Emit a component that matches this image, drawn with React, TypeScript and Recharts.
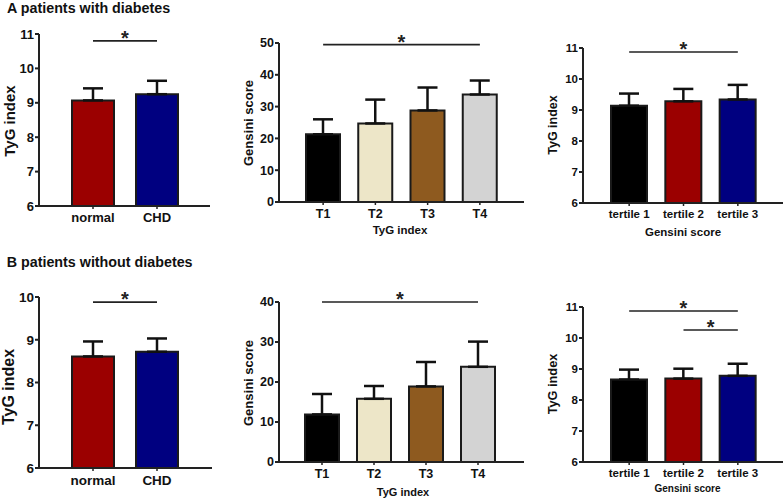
import { BarChart, Bar, XAxis, YAxis, ErrorBar, Cell, ReferenceLine } from 'recharts';

const FONT = '"Liberation Sans", Arial, sans-serif';

// categories
const groupLabels = ['normal', 'CHD'];
const tygQuartiles = ['T1', 'T2', 'T3', 'T4'];
const gensiniTertiles = ['tertile 1', 'tertile 2', 'tertile 3'];

// A patients with diabetes
const aTygMean = [9.07, 9.25];
const aTygSd = [0.35, 0.39];
const aGensiniMean = [21.3, 24.7, 28.8, 33.8];
const aGensiniSd = [4.7, 7.5, 7.2, 4.4];
const aTertileMean = [9.14, 9.28, 9.34];
const aTertileSd = [0.39, 0.4, 0.47];

// B patients without diabetes
const bTygMean = [8.61, 8.72];
const bTygSd = [0.35, 0.31];
const bGensiniMean = [11.9, 15.8, 18.9, 23.8];
const bGensiniSd = [5.1, 3.2, 6.1, 6.3];
const bTertileMean = [8.66, 8.69, 8.78];
const bTertileSd = [0.32, 0.32, 0.39];

// significance brackets (from, to, height in data units)
const aTygSig = [{ from: 'normal', to: 'CHD', y: 10.8 }];
const aGensiniSig = [{ from: 'T1', to: 'T4', y: 49.5 }];
const aTertileSig = [{ from: 'tertile 1', to: 'tertile 3', y: 10.87 }];
const bTygSig = [{ from: 'normal', to: 'CHD', y: 9.88 }];
const bGensiniSig = [{ from: 'T1', to: 'T4', y: 40 }];
const bTertileSig = [
  { from: 'tertile 1', to: 'tertile 3', y: 10.87 },
  { from: 'tertile 2', to: 'tertile 3', y: 10.26 },
];

const tyg11Ticks = [6, 7, 8, 9, 10, 11];
const tyg10Ticks = [6, 7, 8, 9, 10];
const gensini50Ticks = [0, 10, 20, 30, 40, 50];
const gensini40Ticks = [0, 10, 20, 30, 40];

const groupColors = ['#9b0000', '#000080'];
const quartileColors = ['#000000', '#ede6c8', '#8e5a1f', '#d3d3d3'];
const tertileColors = ['#000000', '#9b0000', '#000080'];

const toRows = (names: string[], mean: number[], sd: number[]) =>
  names.map((name, i) => ({ name, value: mean[i], err: [0, sd[i]] }));

type Sig = { from: string; to: string; y: number };

type PanelProps = {
  rows: { name: string; value: number; err: number[] }[];
  colors: string[];
  box: { x: number; y: number; w: number; h: number };
  axisX: number;
  axisEnd: number;
  yTop: number;
  yBottom: number;
  domain: [number, number];
  ticks: number[];
  padL: number;
  padR: number;
  barSize: number;
  yFont: number;
  xFont: number;
  sig: Sig[];
};

const YW = 30;
const XH = 30;

function Panel(p: PanelProps) {
  const margin = {
    top: p.yTop - p.box.y,
    left: p.axisX - p.box.x - YW,
    right: p.box.x + p.box.w - p.axisEnd,
    bottom: p.box.y + p.box.h - p.yBottom - XH,
  };
  const axisStyle = { stroke: '#222', strokeWidth: 2 };
  return (
    <div style={{ position: 'absolute', left: p.box.x, top: p.box.y }}>
      <BarChart width={p.box.w} height={p.box.h} data={p.rows} margin={margin}>
        <XAxis
          dataKey="name"
          type="category"
          interval={0}
          height={XH}
          padding={{ left: p.padL, right: p.padR }}
          tickSize={3}
          tickMargin={4}
          axisLine={axisStyle}
          tickLine={{ stroke: '#222', strokeWidth: 1.5 }}
          tick={{ fill: '#111', fontSize: p.xFont, fontWeight: 'bold', fontFamily: FONT }}
        />
        <YAxis
          type="number"
          domain={p.domain}
          ticks={p.ticks}
          interval={0}
          width={YW}
          tickSize={4}
          tickMargin={1}
          allowDataOverflow
          axisLine={axisStyle}
          tickLine={axisStyle}
          tick={{ fill: '#111', fontSize: p.yFont, fontWeight: 'bold', fontFamily: FONT }}
        />
        <Bar dataKey="value" barSize={p.barSize} stroke="#1a1a1a" strokeWidth={2} isAnimationActive={false}>
          {p.rows.map((r, i) => (
            <Cell key={r.name} fill={p.colors[i]} />
          ))}
          <ErrorBar dataKey="err" direction="y" width={10} stroke="#111" strokeWidth={2.5} />
        </Bar>
        {p.sig.map((s, i) => (
          <ReferenceLine
            key={i}
            segment={[
              { x: s.from, y: s.y },
              { x: s.to, y: s.y },
            ]}
            ifOverflow="visible"
            stroke="#222"
            strokeWidth={1.6}
            label={{ value: '*', position: 'top', offset: -4, fontSize: 20, fontWeight: 'bold', fill: '#222', fontFamily: FONT }}
          />
        ))}
      </BarChart>
    </div>
  );
}

function HText({ x, capTop, size, text, left }: { x: number; capTop: number; size: number; text: string; left?: boolean }) {
  return (
    <div
      style={{
        position: 'absolute',
        left: x,
        top: capTop - 0.13 * size,
        fontSize: size,
        lineHeight: 1,
        fontWeight: 'bold',
        fontFamily: FONT,
        color: '#111',
        whiteSpace: 'nowrap',
        transform: left ? undefined : 'translateX(-50%)',
      }}
    >
      {text}
    </div>
  );
}

function VText({ cx, cy, size, text }: { cx: number; cy: number; size: number; text: string }) {
  return (
    <div style={{ position: 'absolute', left: cx, top: cy, width: 0, height: 0 }}>
      <div
        style={{
          position: 'absolute',
          left: 0,
          top: 0,
          fontSize: size,
          lineHeight: 1,
          fontWeight: 'bold',
          fontFamily: FONT,
          color: '#111',
          whiteSpace: 'nowrap',
          transform: 'translate(-50%, -50%) rotate(-90deg)',
        }}
      >
        {text}
      </div>
    </div>
  );
}

export default function App() {
  return (
    <div style={{ position: 'absolute', left: 0, top: 0, width: 784, height: 501, background: '#fff', overflow: 'hidden' }}>
      <HText x={7} capTop={3.3} size={14.3} text="A patients with diabetes" left />
      <HText x={6.7} capTop={256.7} size={14.3} text="B patients without diabetes" left />

      <Panel
        rows={toRows(groupLabels, aTygMean, aTygSd)}
        colors={groupColors}
        box={{ x: 0, y: 0, w: 238, h: 245 }}
        axisX={39}
        axisEnd={210}
        yTop={34}
        yBottom={206}
        domain={[6, 11]}
        ticks={tyg11Ticks}
        padL={22}
        padR={21}
        barSize={42}
        yFont={13}
        xFont={13}
        sig={aTygSig}
      />
      <Panel
        rows={toRows(tygQuartiles, aGensiniMean, aGensiniSd)}
        colors={quartileColors}
        box={{ x: 238, y: 0, w: 290, h: 245 }}
        axisX={279}
        axisEnd={524}
        yTop={43}
        yBottom={202}
        domain={[0, 50]}
        ticks={gensini50Ticks}
        padL={18}
        padR={18}
        barSize={34}
        yFont={12.5}
        xFont={12.5}
        sig={aGensiniSig}
      />
      <Panel
        rows={toRows(gensiniTertiles, aTertileMean, aTertileSd)}
        colors={tertileColors}
        box={{ x: 520, y: 0, w: 264, h: 245 }}
        axisX={583}
        axisEnd={783}
        yTop={48}
        yBottom={203}
        domain={[6, 11]}
        ticks={tyg11Ticks}
        padL={19}
        padR={18}
        barSize={36}
        yFont={11.5}
        xFont={11.5}
        sig={aTertileSig}
      />
      <Panel
        rows={toRows(groupLabels, bTygMean, bTygSd)}
        colors={groupColors}
        box={{ x: 0, y: 245, w: 238, h: 256 }}
        axisX={39}
        axisEnd={212}
        yTop={297}
        yBottom={468}
        domain={[6, 10]}
        ticks={tyg10Ticks}
        padL={22}
        padR={23}
        barSize={42}
        yFont={13.5}
        xFont={13.5}
        sig={bTygSig}
      />
      <Panel
        rows={toRows(tygQuartiles, bGensiniMean, bGensiniSd)}
        colors={quartileColors}
        box={{ x: 238, y: 245, w: 290, h: 256 }}
        axisX={279}
        axisEnd={524}
        yTop={302}
        yBottom={462}
        domain={[0, 40]}
        ticks={gensini40Ticks}
        padL={17}
        padR={20}
        barSize={34}
        yFont={12.5}
        xFont={12.5}
        sig={bGensiniSig}
      />
      <Panel
        rows={toRows(gensiniTertiles, bTertileMean, bTertileSd)}
        colors={tertileColors}
        box={{ x: 520, y: 245, w: 264, h: 256 }}
        axisX={583}
        axisEnd={783}
        yTop={307}
        yBottom={462}
        domain={[6, 11]}
        ticks={tyg11Ticks}
        padL={19}
        padR={18}
        barSize={36}
        yFont={11.5}
        xFont={11.5}
        sig={bTertileSig}
      />

      <VText cx={8.9} cy={121.3} size={15} text="TyG index" />
      <VText cx={247.5} cy={123} size={13} text="Gensini score" />
      <VText cx={552.9} cy={124.7} size={12.5} text="TyG index" />
      <VText cx={9.2} cy={386.7} size={16} text="TyG index" />
      <VText cx={247.5} cy={382.5} size={13} text="Gensini score" />
      <VText cx={553} cy={384} size={12.75} text="TyG index" />

      <HText x={400} capTop={226.7} size={11.5} text="TyG index" />
      <HText x={683} capTop={228} size={11.5} text="Gensini score" />
      <HText x={403} capTop={488} size={11} text="TyG index" />
      <HText x={687.5} capTop={485} size={10} text="Gensini score" />
    </div>
  );
}
